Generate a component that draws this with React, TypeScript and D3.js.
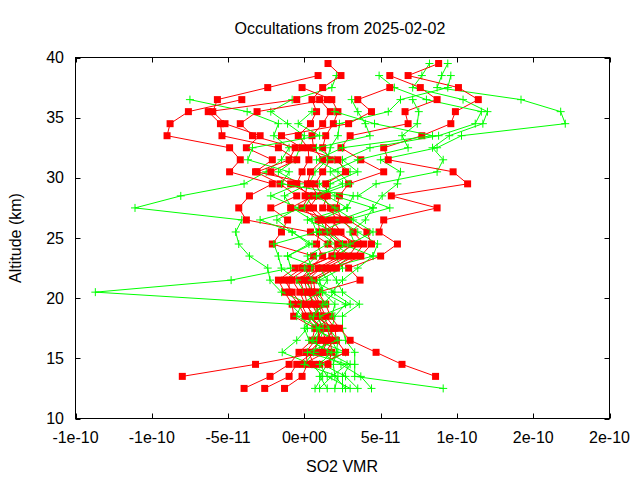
import React from "react";
import * as d3 from "d3";

// Altitude levels (km)
const altitudes = [12.5, 13.5, 14.5, 15.5, 16.5, 17.5, 18.5, 19.5, 20.5, 21.5, 22.5, 23.5, 24.5, 25.5, 26.5, 27.5, 28.5, 29.5, 30.5, 31.5, 32.5, 33.5, 34.5, 35.5, 36.5, 37.5, 38.5, 39.5];

// SO2 VMR values in units of 1e-11 (null = no retrieval at that altitude)
const UNIT = 1e-11;
const N = null;

const redProfiles: (number | null)[][] = [
  [-3.95, -2.25, -1.0, -0.35, 0.5, 0.7, -0.7, -0.8, -1.3, -1.7, -0.6, 0.6, -2.1, -1.5, -1.1, -2.2, -0.5, -1.6, -3.2, -2.1, -3.8, -2.9, -5.2, -6.0, -5.7, -2.4, 0.9, N],
  [-2.6, -1.0, -0.5, 0.6, 0.9, 1.0, 0.5, 0.2, 0.0, -0.3, 0.4, 1.2, 0.8, 1.0, 0.9, -0.15, 0.3, -0.5, -0.15, 0.3, 0.25, -0.4, 0.4, 0.8, 0.5, 1.2, 2.4, 1.55],
  [-1.3, -0.15, 0.2, 0.1, 0.7, 1.3, 0.2, -0.2, -0.8, -1.3, -0.15, 2.0, 2.6, 1.7, 2.1, 1.7, 1.2, 0.7, 1.2, 1.7, 1.2, 1.4, 1.9, 2.2, 1.8, -0.15, N, N],
  [N, -8.0, -3.2, 1.0, 1.4, 1.15, 0.9, 0.5, 0.4, 0.2, 1.1, 2.6, 1.55, 0.4, -3.8, -4.3, -3.6, -2.1, -4.9, -4.2, -4.9, -9.0, -8.8, -7.6, -4.1, N, N, N],
  [N, 8.6, 6.4, 4.7, 3.0, 2.3, 1.7, 1.4, 0.9, 3.65, 2.9, 5.0, 6.1, 4.9, 5.2, 8.7, 5.7, 10.7, 9.75, 5.5, 5.2, 7.7, 9.6, 9.9, 11.4, 10.1, 6.8, 8.8],
  [N, N, -0.1, 1.4, 1.9, 1.7, 1.2, 0.9, 0.5, 0.4, 1.8, 3.3, 3.9, 3.2, 2.5, 2.1, 2.3, 2.9, 5.2, 3.7, 2.4, 3.0, 6.8, 6.6, 8.7, 7.6, 5.6, N],
  [N, N, 0.6, 0.3, 1.1, 0.8, 0.05, -0.4, -1.0, -1.0, 0.2, 1.8, 2.2, 1.4, 1.4, 0.6, 0.05, 0.2, 0.4, 1.2, 0.6, 0.5, 1.2, 1.7, 1.0, N, N, N],
  [N, N, 1.0, 2.7, 2.1, 2.0, 1.4, 1.0, 0.7, 0.6, 2.1, 3.7, 4.4, 4.1, 2.9, 1.2, 1.5, 1.4, 2.7, 2.2, -0.15, -1.5, 2.9, 4.4, 3.5, 5.6, N, N],
  [N, N, 1.55, 1.8, 1.7, 1.5, 1.0, 0.7, 0.2, 0.0, 0.9, 2.3, 3.1, 2.4, 1.8, -0.9, 0.6, -0.9, -2.2, -0.5, -1.7, -5.4, -5.5, -6.3, -0.5, N, N, N],
  [N, N, N, 1.2, 1.5, 1.9, 0.7, 0.05, -0.3, -0.8, 1.4, 2.9, 3.5, 2.0, 1.1, 0.3, 0.9, 0.4, -3.1, -1.0, -0.6, -3.4, -4.2, -3.1, 1.5, N, N, N],
];

const greenProfiles: (number | null)[][] = [
  [0.7, 1.2, 0.5, -1.45, -0.5, 0.2, -0.15, -0.9, -13.7, -4.8, -0.9, -1.1, 0.3, -0.8, -1.8, -0.4, -2.2, -0.3, -1.7, -0.6, -0.3, 0.0, -1.1, -2.2, -0.8, 1.8, 2.1, N],
  [2.7, 2.0, 1.9, 2.1, 2.2, 0.5, 1.2, 0.4, -1.5, -2.25, -2.4, -3.6, -4.3, -4.5, -4.1, -11.1, -8.1, -3.95, -2.5, -1.5, -1.0, -2.0, -1.7, -3.75, -7.5, N, N, N],
  [9.1, 3.3, 3.3, 3.3, 2.7, 2.5, 2.5, 3.6, 2.5, 2.1, 1.5, 4.5, 4.8, 3.5, 2.3, 4.5, 5.1, 6.1, 6.3, 5.0, 8.7, 10.3, 17.1, 16.8, 14.2, 8.7, 9.0, 9.4],
  [4.4, 3.7, 2.4, 1.0, 1.5, 1.8, 2.0, 2.7, 1.2, 0.8, 2.0, 3.0, 2.0, 1.0, 2.8, 5.6, 3.5, 4.7, 8.7, 9.1, 8.4, 9.5, 11.7, 12.0, 10.4, 7.1, 7.7, 8.2],
  [3.5, 2.7, 1.2, 2.7, 0.8, 1.0, 0.3, 1.5, 0.6, 0.0, 0.5, 0.2, 1.5, 2.0, 0.2, 2.8, 1.5, 1.7, 3.5, 2.5, 4.3, 8.8, 11.2, 11.6, 8.0, 5.9, 4.9, N],
  [2.0, 2.2, 0.0, 0.6, 1.0, 1.3, 0.8, 0.9, 0.0, -0.5, -1.5, -1.7, -2.0, 0.8, 0.5, -0.8, -1.3, 0.3, 0.7, 1.5, 1.7, 2.2, 2.3, 5.5, 6.3, 9.4, 9.6, N],
  [1.5, 1.0, 1.5, 2.2, 1.8, 0.8, 1.8, 2.0, 1.2, 1.0, 2.5, 2.0, 3.3, 3.0, 4.0, 4.5, 2.0, 1.0, 3.0, 2.0, 0.8, 4.3, 4.0, 3.5, 3.1, N, N, N],
  [2.5, 2.5, 3.0, 1.5, 0.5, 1.0, -0.5, -0.2, 1.0, 1.5, 1.0, -1.1, 0.5, -0.8, -2.9, 0.0, 0.5, 2.5, 1.7, 3.5, 6.8, 6.4, 7.4, 7.5, 7.1, N, N, N],
  [1.0, 1.8, 2.8, 0.2, 2.2, 1.6, 1.0, 3.0, 1.8, 2.5, 3.5, 4.5, 2.5, 1.5, 1.0, 2.8, 3.2, -1.5, -1.0, -3.7, -3.4, 1.0, -0.4, 0.5, N, N, N, N],
  [3.0, 1.5, 1.0, 1.8, 0.3, 0.0, 0.6, 1.2, 2.0, 0.5, 0.0, 0.8, 3.0, 4.5, 3.2, 2.0, 0.8, 3.0, 2.2, 0.8, 2.5, 8.4, 4.6, 2.0, N, N, N, N],
];

const xTicks = [-1.5e-10, -1e-10, -5e-11, 0, 5e-11, 1e-10, 1.5e-10, 2e-10];
const xTickLabels = ["-1e-10", "-1e-10", "-5e-11", "0e+00", "5e-11", "1e-10", "2e-10", "2e-10"];
const yTicks = [10, 15, 20, 25, 30, 35, 40];

const W = 640, H = 480;
const L = 75.5, R = 609.5, T = 57.5, B = 418.5;
const FONT = "'Liberation Sans', Arial, sans-serif";
const FS = 16;

export default function App() {
  const x = d3.scaleLinear().domain([-1.5e-10, 2e-10]).range([L, R]);
  const y = d3.scaleLinear().domain([10, 40]).range([B, T]);

  const toPts = (p: (number | null)[]) =>
    p.map((v, i) => (v === null ? null : [x(v * UNIT), y(altitudes[i])] as [number, number]))
      .filter((d): d is [number, number] => d !== null);

  const line = d3.line<[number, number]>().x((d) => d[0]).y((d) => d[1]);

  const layers: JSX.Element[] = [];
  for (let i = 0; i < Math.max(redProfiles.length, greenProfiles.length); i++) {
    const rp = redProfiles[i];
    if (rp) {
      const pts = toPts(rp);
      layers.push(
        <g key={"r" + i}>
          <path d={line(pts) || ""} fill="none" stroke="#ff0000" strokeWidth={1} />
          {pts.map((d, j) => (
            <rect key={j} x={d[0] - 3.5} y={d[1] - 3.5} width={7} height={7} fill="#ff0000" />
          ))}
        </g>
      );
    }
    const gp = greenProfiles[i];
    if (gp) {
      const pts = toPts(gp);
      layers.push(
        <g key={"g" + i}>
          <path d={line(pts) || ""} fill="none" stroke="#00ff00" strokeWidth={1} />
          {pts.map((d, j) => (
            <path key={j} d={`M${d[0] - 4},${d[1]}H${d[0] + 4}M${d[0]},${d[1] - 4}V${d[1] + 4}`} stroke="#00ff00" strokeWidth={1} fill="none" />
          ))}
        </g>
      );
    }
  }

  return (
    <svg width={W} height={H} style={{ display: "block", position: "absolute", left: 0, top: 0, background: "#fff" }} fontFamily={FONT}>
      <rect x={0} y={0} width={W} height={H} fill="#fff" />
      <defs>
        <clipPath id="plotclip">
          <rect x={L} y={T} width={R - L} height={B - T} />
        </clipPath>
      </defs>
      <g clipPath="url(#plotclip)">{layers}</g>
      {/* ticks */}
      {xTicks.map((t, i) => (
        <g key={"xt" + i}>
          <line x1={Math.round(x(t)) + 0.5} x2={Math.round(x(t)) + 0.5} y1={B} y2={B - 5} stroke="#000" />
          <line x1={Math.round(x(t)) + 0.5} x2={Math.round(x(t)) + 0.5} y1={T} y2={T + 5} stroke="#000" />
          <text x={x(t)} y={443} textAnchor="middle" fontSize={FS} fill="#000">{xTickLabels[i]}</text>
        </g>
      ))}
      {yTicks.map((t, i) => (
        <g key={"yt" + i}>
          <line x1={L} x2={L + 5} y1={Math.round(y(t)) + 0.5} y2={Math.round(y(t)) + 0.5} stroke="#000" />
          <line x1={R} x2={R - 5} y1={Math.round(y(t)) + 0.5} y2={Math.round(y(t)) + 0.5} stroke="#000" />
          <text x={64} y={y(t) + 5.5} textAnchor="end" fontSize={FS} fill="#000">{t}</text>
        </g>
      ))}
      <rect x={L} y={T} width={R - L} height={B - T} fill="none" stroke="#000" strokeWidth={1} />
      <text x={340} y={34} textAnchor="middle" fontSize={FS} fill="#000">Occultations from 2025-02-02</text>
      <text x={342} y={472} textAnchor="middle" fontSize={FS} fill="#000">SO2 VMR</text>
      <text transform={`translate(21,238) rotate(-90)`} textAnchor="middle" fontSize={FS} fill="#000">Altitude (km)</text>
    </svg>
  );
}
